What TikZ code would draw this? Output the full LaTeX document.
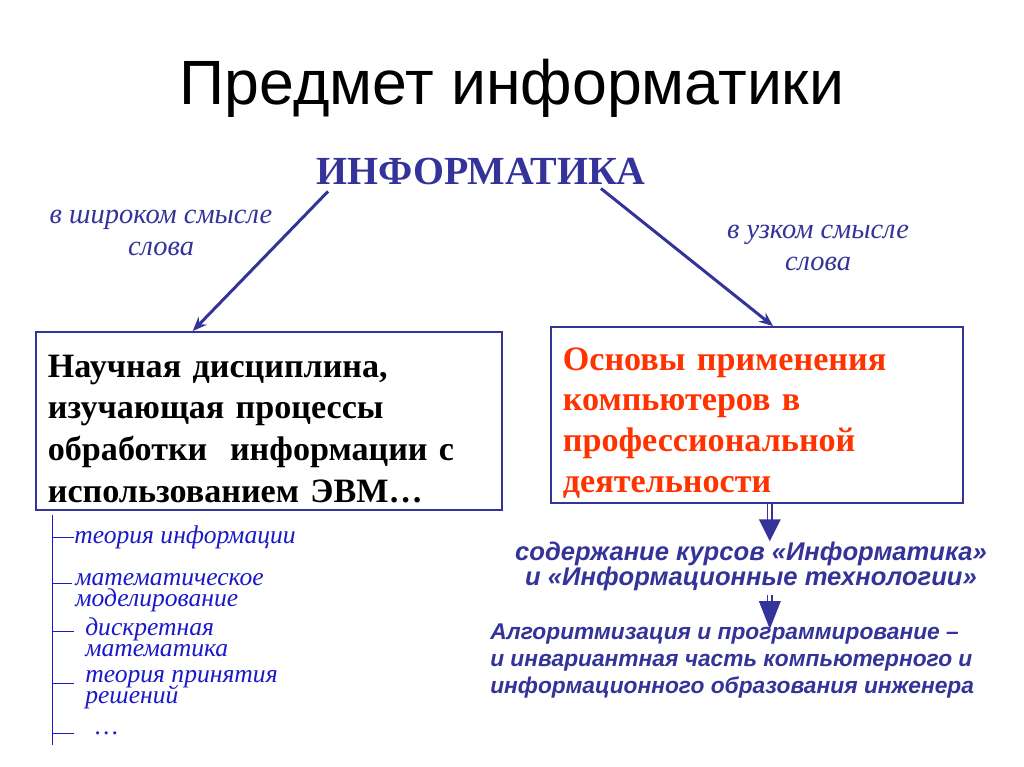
\documentclass[tikz,border=0pt]{standalone}
\usepackage{fontspec}
\setmainfont{Liberation Serif}
\newfontfamily\arialf{Liberation Sans}
\usetikzlibrary{arrows.meta,calc}
\definecolor{navy}{RGB}{51,51,153}
\definecolor{tblue}{RGB}{25,25,200}
\definecolor{ored}{RGB}{255,51,0}
\newcommand\tightlines{\setlength{\lineskiplimit}{-30pt}}
\begin{document}
\begin{tikzpicture}[x=0.703125pt,y=-0.703125pt,
  box/.style={draw=navy,line width=1.3pt,inner xsep=8pt,inner ysep=0pt,align=left},
  boxfont/.style={font=\bfseries\fontsize{24}{#1}\selectfont},
  lbl/.style={text=navy,align=center,font=\itshape\fontsize{20}{23}\selectfont,inner sep=0pt},
  arr/.style={draw=navy,line width=2.1pt,-{Stealth[length=10pt,width=8pt]}},
  item/.style={text=tblue,align=left,anchor=west,inner sep=0pt,
    font=\itshape\fontsize{18}{14.8}\selectfont\tightlines},
  tree/.style={draw=tblue,line width=0.7pt},
  stem/.style={draw=navy,double=white,double distance=2.2pt,line width=0.8pt},
  tip/.style={fill=navy},
  sub/.style={text=navy,inner sep=0pt,font=\arialf\bfseries\itshape\fontsize{18}{17.6}\selectfont}
]
\useasboundingbox (0,0) rectangle (1024,767);
\node[font=\arialf\fontsize{44}{50}\selectfont] (title) at (512,88) {Предмет информатики};
\node[font=\bfseries\fontsize{28}{32}\selectfont,text=navy,inner sep=0pt] (inf) at (481,172) {ИНФОРМАТИКА};

\node[lbl] (wide) at (161,233) {в широком смысле\\слова};
\node[lbl] (narrow) at (818,248) {в узком смысле\\слова};

\node[box,boxfont=29.5,minimum width=327.7pt,text width=311pt,minimum height=125.2pt] (lbox) at (269,421)
 {\rule{0pt}{27pt}Научная дисциплина,\\изучающая процессы\\обработки~ информации с\\использованием ЭВМ\ldots};
\node[box,boxfont=28.6,text=ored,minimum width=289.7pt,text width=273pt,minimum height=123.75pt] (rbox) at (757,415)
 {\rule{0pt}{27pt}Основы применения\\компьютеров в\\профессиональной\\деятельности};

\draw[arr] ([xshift=8.4pt,yshift=-4pt]inf.south west) -- ($(lbox.north west)!0.337!(lbox.north east)$);
\draw[arr] ([xshift=-31.6pt,yshift=-2pt]inf.south east) -- ($(rbox.north west)!0.539!(rbox.north east)$);

% tree
\node[item] (t1) at (74,537) {теория информации};
\node[item] (t2) at (75,593) {математическое\\моделирование};
\node[item] (t3) at (85,637) {дискретная\\математика};
\node[item] (t4) at (85,690) {теория принятия\\решений};
\node[item] (t5) at (95,733) {\ldots};
\coordinate (trtop) at (52,515);
\coordinate (trbot) at (52,745);
\coordinate (k1) at (74,537);
\coordinate (k2) at (72,583);
\coordinate (k3) at (74,631);
\coordinate (k4) at (74,683);
\coordinate (k5) at (74,733);
\draw[tree] (trtop) -- (trbot);
\foreach \k in {k1,k2,k3,k4,k5} \draw[tree] (trtop |- \k) -- (\k);

% right column
\node[sub,align=center] (courses) at (751,566) {содержание курсов «Информатика»\\и «Информационные технологии»};
\node[sub,align=left,anchor=west,font=\arialf\bfseries\itshape\fontsize{16}{19.3}\selectfont] (algo) at (490,661)
 {Алгоритмизация и программирование –\\и инвариантная часть компьютерного и\\информационного образования инженера};

\coordinate (a1) at ($(rbox.south west)!0.531!(rbox.south east)$);
\coordinate (a1tip) at (a1 |- courses.north);
\draw[stem] (a1) -- ($(a1tip)+(0,-20)$);
\fill[tip] (a1tip) -- ++(-11,-22) -- ++(22,0) -- cycle;
\coordinate (a2) at (a1 |- courses.south);
\coordinate (a2tip) at ($(a1 |- algo.north)+(0,6)$);
\draw[stem] ([yshift=-3pt]a2) -- ($(a2tip)+(0,-26)$);
\fill[tip] (a2tip) -- ++(-11,-28) -- ++(22,0) -- cycle;
\end{tikzpicture}
\end{document}
